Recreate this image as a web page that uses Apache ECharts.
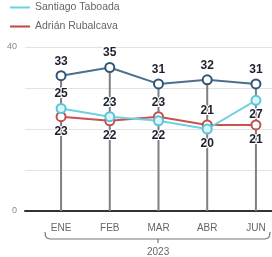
<!DOCTYPE html>
<html><head><meta charset="utf-8">
<script src="https://cdn.jsdelivr.net/npm/echarts@6/dist/echarts.min.js"></script>
<style>html,body{margin:0;padding:0;background:#fff}#c{width:272px;height:257px}</style>
</head><body><div id="c"></div>
<script>
var categories = ['ENE', 'FEB', 'MAR', 'ABR', 'JUN'];
var yearLabel = '2023';
var topName = 'Clara Brugada';
var topValues = [33, 35, 31, 32, 31];
var taboadaName = 'Santiago Taboada';
var taboadaValues = [25, 23, 22, 20, 27];
var rubalcavaName = 'Adrián Rubalcava';
var rubalcavaValues = [23, 22, 23, 21, 21];
var yTicks = [0, 40];

// label placement (style)
var taboadaPos = ['top', 'top', 'bottom', 'bottom', 'bottom'];
var rubalcavaPos = ['bottom', 'bottom', 'top', 'top', 'bottom'];

function pts(vals, pos) {
  return categories.map(function (c, i) {
    var d = { value: [i, vals[i]] };
    if (pos) d.label = { position: pos[i] };
    return d;
  });
}
var dropVals = categories.map(function (c, i) {
  return [i, Math.max(topValues[i], taboadaValues[i], rubalcavaValues[i])];
});

var labelStyle = {
  show: true, fontFamily: 'Liberation Sans Narrow, Liberation Sans, sans-serif',
  fontWeight: 'bold', fontSize: 12, color: '#1e2030',
  textBorderColor: '#fff', textBorderWidth: 2, distance: 3
};

var chart = echarts.init(document.getElementById('c'), null, { renderer: 'canvas' });
chart.setOption({
  animation: false,
  backgroundColor: '#fff',
  legend: {
    data: [
      { name: taboadaName, icon: 'rect', itemStyle: { color: '#6fd0e2', borderWidth: 0 } },
      { name: rubalcavaName, icon: 'rect', itemStyle: { color: '#c9423f', borderWidth: 0 } }
    ],
    orient: 'vertical', left: 5, top: -3,
    itemWidth: 20, itemHeight: 2, itemGap: 8,
    textStyle: { color: '#666', fontSize: 10.5, fontFamily: 'Liberation Sans Narrow, Liberation Sans, sans-serif' }
  },
  grid: { left: 25, right: 0, top: 47, bottom: 46, containLabel: false },
  xAxis: {
    type: 'value', min: -0.74, max: 4.33,
    axisLine: { show: true, onZero: false, lineStyle: { color: '#333', width: 2 } },
    axisTick: { show: false },
    splitLine: { show: false },
    axisLabel: {
      customValues: [0, 1, 2, 3, 4],
      formatter: function (v) { return categories[Math.round(v)] || ''; },
      color: '#666', fontSize: 10, margin: 12,
      fontFamily: 'Liberation Sans Narrow, Liberation Sans, sans-serif'
    }
  },
  yAxis: {
    type: 'value', min: 0, max: 40, interval: 10,
    axisLine: { show: false }, axisTick: { show: false },
    splitLine: { show: true, lineStyle: { color: '#e2e2e2', width: 1 } },
    axisLabel: {
      formatter: function (v) { return yTicks.indexOf(v) >= 0 ? String(v) : ''; },
      color: '#888', fontSize: 9, margin: 8
    }
  },
  series: [
    {
      type: 'bar', data: dropVals, barWidth: 2, silent: true, z: 1,
      itemStyle: { color: '#808080' }, legendHoverLink: false
    },
    {
      name: topName, type: 'line', data: pts(topValues), z: 3,
      symbol: 'circle', symbolSize: 9, showAllSymbol: true,
      lineStyle: { color: '#4a7090', width: 2 },
      itemStyle: { color: '#ffffff', borderColor: '#2f5678', borderWidth: 2 },
      label: Object.assign({}, labelStyle, { position: 'top' })
    },
    {
      name: taboadaName, type: 'line', data: pts(taboadaValues, taboadaPos), z: 4,
      symbol: 'circle', symbolSize: 9, showAllSymbol: true, color: '#6fd0e2',
      lineStyle: { color: '#6fd0e2', width: 2 },
      itemStyle: { color: '#d8f6fa', borderColor: '#5cc4da', borderWidth: 2 },
      label: labelStyle
    },
    {
      name: rubalcavaName, type: 'line', data: pts(rubalcavaValues, rubalcavaPos), z: 3,
      symbol: 'circle', symbolSize: 9, showAllSymbol: true, color: '#c9423f',
      lineStyle: { color: '#c9524f', width: 2 },
      itemStyle: { color: '#ffffff', borderColor: '#c0504d', borderWidth: 2 },
      label: labelStyle
    }
  ],
  graphic: [
    {
      type: 'polyline', silent: true,
      shape: { points: [[45,232],[45.5,236],[47,238],[50,239],[265,239],[268,238],[269.5,236],[270,232]] },
      style: { fill: null, stroke: '#777', lineWidth: 1.2 }
    },
    {
      type: 'line', silent: true,
      shape: { x1: 158, y1: 239, x2: 158, y2: 243 },
      style: { stroke: '#777', lineWidth: 1.2 }
    },
    {
      type: 'text', silent: true, left: 147, top: 247,
      style: { text: yearLabel, fill: '#666', fontSize: 10, fontFamily: 'Liberation Sans Narrow, Liberation Sans, sans-serif' }
    }
  ]
});
</script></body></html>
